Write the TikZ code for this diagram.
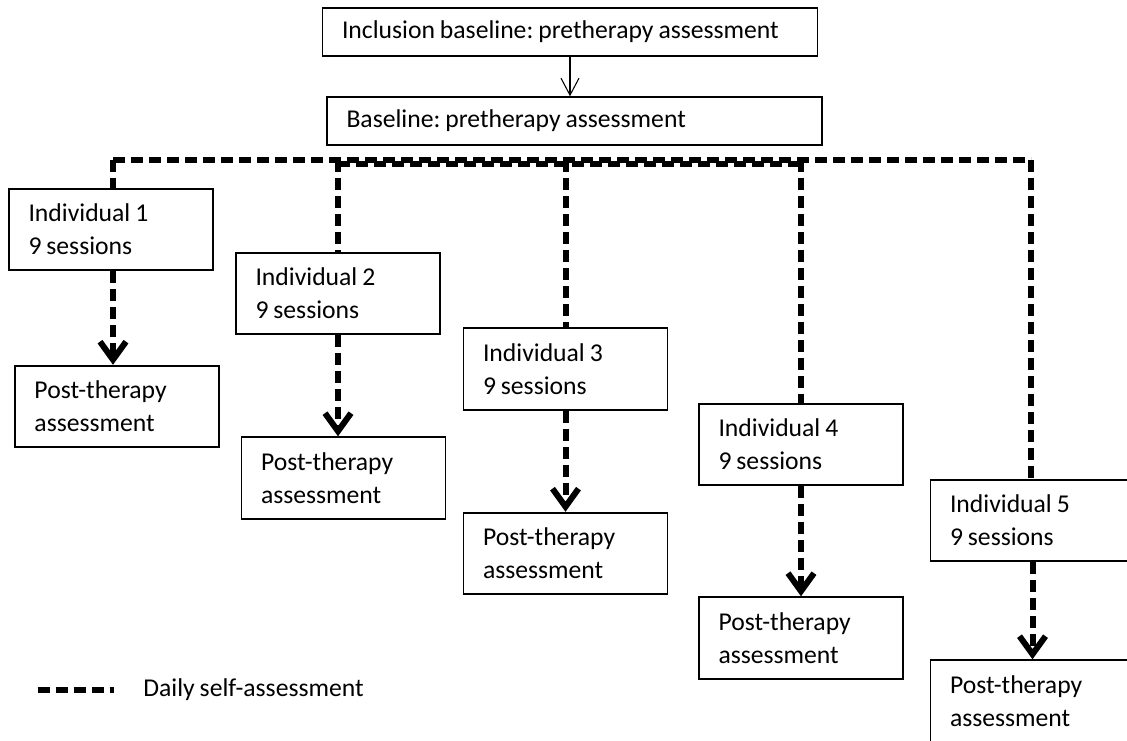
\documentclass[tikz,border=0pt]{standalone}
\usepackage{fontspec}
\setmainfont{Carlito}[WordSpace=0.85]
\usetikzlibrary{arrows.meta}
\frenchspacing

\begin{document}
\begin{tikzpicture}[font=\fontsize{14.6}{18.9}\selectfont,
    execute at begin node={\spaceskip=0pt\xspaceskip=0pt},
    widebox/.style={draw, line width=1.1pt, minimum width=9.9cm, minimum height=0.95cm,
        text width=9.12cm, inner xsep=0.39cm, inner ysep=0pt, align=flush left},
    stagebox/.style={draw, line width=1.1pt, minimum width=4.08cm, minimum height=1.63cm,
        text width=3.3cm, inner xsep=0.39cm, inner ysep=0pt, align=flush left},
    daily/.style={line width=0.12cm, dash pattern=on 0.24cm off 0.12cm},
    dailyarrow/.style={daily, -{Straight Barb[length=0.36cm, width=0.52cm]}}]
    \useasboundingbox (0,0) rectangle (22.54,-14.8);

    \node[widebox] (incl) at (11.40,-0.64) {Inclusion baseline: pretherapy assessment};
    \node[widebox] (base) at (11.49,-2.42) {Baseline: pretherapy assessment};

    \node[stagebox] (ind1) at (2.22,-4.59) {Individual 1\\9 sessions};
    \node[stagebox] (ind2) at (6.76,-5.87) {Individual 2\\9 sessions};
    \node[stagebox] (ind3) at (11.31,-7.38) {Individual 3\\9 sessions};
    \node[stagebox] (ind4) at (16.02,-8.89) {Individual 4\\9 sessions};
    \node[stagebox] (ind5) at (20.65,-10.41) {Individual 5\\9 sessions};

    \node[stagebox] (post1) at (2.34,-8.13) {Post-therapy\\assessment};
    \node[stagebox] (post2) at (6.87,-9.56) {Post-therapy\\assessment};
    \node[stagebox] (post3) at (11.31,-11.07) {Post-therapy\\assessment};
    \node[stagebox] (post4) at (16.02,-12.76) {Post-therapy\\assessment};
    \node[stagebox] (post5) at (20.65,-14.02) {Post-therapy\\assessment};

    \draw[line width=0.6pt, -{Straight Barb[length=0.34cm, width=0.36cm]}] (incl.south) -- (incl.south |- base.north);

    \coordinate (hl) at (2.26,-3.2);
    \coordinate (hm) at (2.26,-3.27);
    \coordinate (hr) at (20.62,-3.2);
    \draw[daily] (hl) -- (hr);
    \draw[daily] (ind2.north |- hm) -- (ind4.north |- hm);
    \draw[daily] (hl) -- (ind1.north -| hl);
    \draw[daily] (ind2.north |- hl) -- (ind2.north);
    \draw[daily] (ind3.north |- hl) -- (ind3.north);
    \draw[daily] (ind4.north |- hl) -- (ind4.north);
    \draw[daily] (hr) -- (ind5.north -| hr);

    \draw[dailyarrow] (ind1.south -| hl) -- (post1.north -| hl);
    \draw[dailyarrow] (ind2.south) -- (ind2.south |- post2.north);
    \draw[dailyarrow] (ind3.south) -- (ind3.south |- post3.north);
    \draw[dailyarrow] (ind4.south) -- (ind4.south |- post4.north);
    \draw[dailyarrow] (ind5.south) -- (ind5.south |- post5.north);

    \node[anchor=west, inner sep=0pt] (legend) at (2.86,-13.8) {Daily self-assessment};
    \draw[daily] (0.75,-13.8) -- (2.28,-13.8);
\end{tikzpicture}
\end{document}
